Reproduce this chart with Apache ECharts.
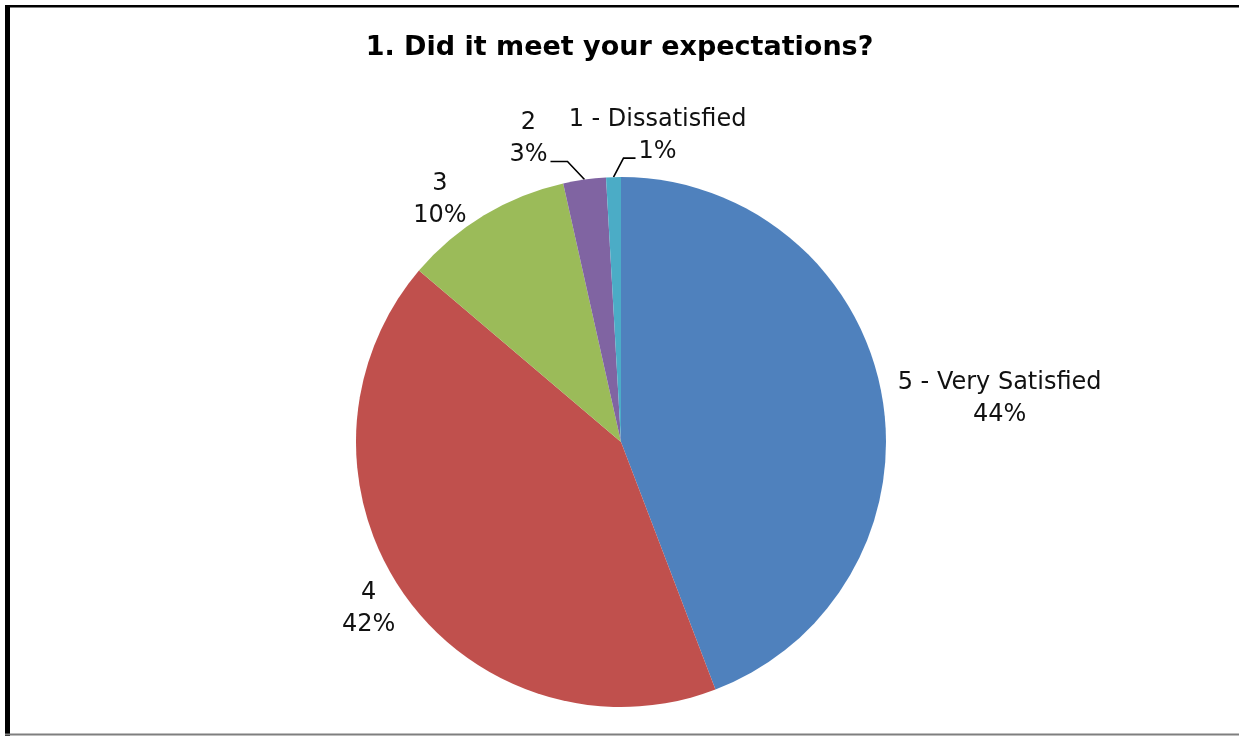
<!DOCTYPE html>
<html>
<head>
<meta charset="utf-8">
<script src="https://cdn.jsdelivr.net/npm/echarts@6/dist/echarts.min.js"></script>
<style>
html,body{margin:0;padding:0;background:#fff;}
#chart{width:1239px;height:736px;}
</style>
</head>
<body>
<div id="chart"></div>
<script>
// ---- data ----
var titleText = '1. Did it meet your expectations?';
var categories = ['5 - Very Satisfied', '4', '3', '2', '1 - Dissatisfied'];
var values = [44.2, 42.0, 10.3, 2.6, 0.9];
var colors = ['#4F81BD', '#C0504D', '#9BBB59', '#8064A2', '#4BACC6'];

// ---- layout ----
var CX = 621, CY = 442, R = 265;
var FONT = '"DejaVu Sans", sans-serif';
// label centre offsets from the slice's outer mid-point
var labelOffsets = [[118, 5], [-36, 14], [-44, -15], [-56, -41], [44, -41]];
// leader line bends relative to the slice's outer mid-point (only for small slices)
var leaderBends = {
  3: [[-17, -18], [-34, -18]],
  4: [[10, -19], [22, -19]]
};

var total = values.reduce(function (a, b) { return a + b; }, 0);
var midAngles = [];
(function () {
  var acc = 0;
  for (var i = 0; i < values.length; i++) {
    var a = values[i] / total * 360;
    midAngles.push(acc + a / 2);
    acc += a;
  }
})();
function edgePoint(i) {
  var t = midAngles[i] * Math.PI / 180;
  return [CX + R * Math.sin(t), CY - R * Math.cos(t)];
}

var data = categories.map(function (c, i) {
  return {
    name: c,
    value: values[i],
    itemStyle: { color: colors[i] },
    labelLine: { show: !!leaderBends[i] }
  };
});

var chart = echarts.init(document.getElementById('chart'), null, { renderer: 'canvas' });
chart.setOption({
  backgroundColor: '#ffffff',
  animation: false,
  title: {
    text: titleText,
    left: 'center',
    top: 29,
    textStyle: { fontFamily: FONT, fontSize: 27, fontWeight: 'bold', color: '#000' }
  },
  graphic: [
    { type: 'rect', shape: { x: 5, y: 5, width: 1234, height: 2.5 }, style: { fill: '#000' }, silent: true },
    { type: 'rect', shape: { x: 5, y: 5, width: 5, height: 731 }, style: { fill: '#000' }, silent: true },
    { type: 'rect', shape: { x: 5, y: 733.5, width: 1234, height: 2 }, style: { fill: '#7f7f7f' }, silent: true }
  ],
  series: [{
    type: 'pie',
    center: [CX, CY],
    radius: [0, R],
    startAngle: 90,
    clockwise: true,
    avoidLabelOverlap: false,
    data: data,
    itemStyle: { borderWidth: 0 },
    label: {
      show: true,
      position: 'outside',
      fontFamily: FONT,
      fontSize: 24,
      lineHeight: 32,
      color: '#111',
      formatter: function (p) {
        return p.name + '\n' + Math.round(p.percent) + '%';
      }
    },
    labelLine: {
      show: false,
      length: 10,
      length2: 10,
      lineStyle: { color: '#000', width: 1.6 }
    },
    labelLayout: function (p) {
      var i = p.dataIndex;
      var e = edgePoint(i);
      var o = labelOffsets[i];
      var res = {
        x: e[0] + o[0],
        y: e[1] + o[1],
        align: 'center',
        verticalAlign: 'middle'
      };
      if (leaderBends[i]) {
        res.labelLinePoints = [e].concat(leaderBends[i].map(function (b) {
          return [e[0] + b[0], e[1] + b[1]];
        }));
      }
      return res;
    },
    emphasis: { disabled: true }
  }]
});
</script>
</body>
</html>
